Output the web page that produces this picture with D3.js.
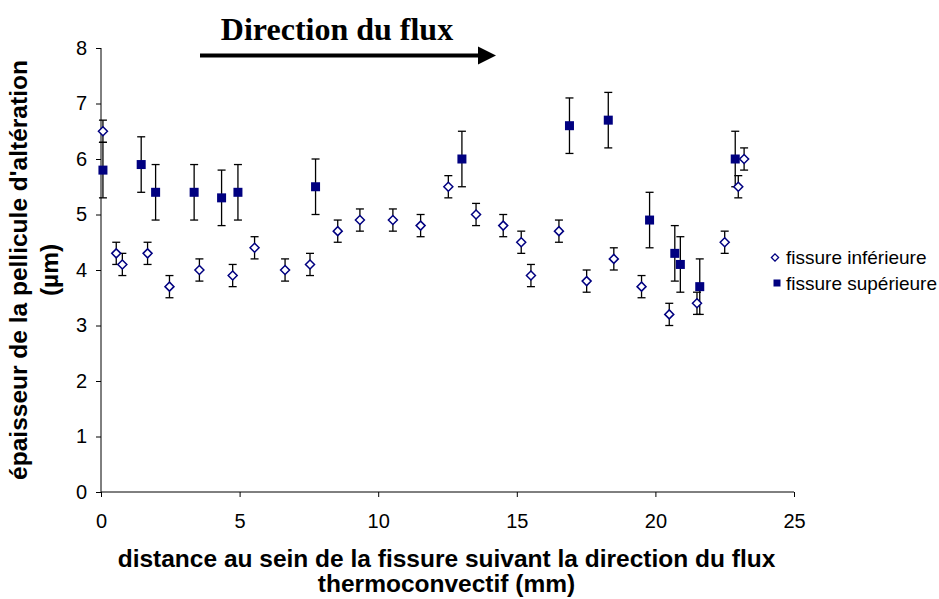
<!DOCTYPE html>
<html><head><meta charset="utf-8">
<script src="https://cdn.jsdelivr.net/npm/d3@7"></script>
<style>body{margin:0;background:#fff}svg{display:block}</style>
</head><body>
<svg id="c" width="939" height="599"></svg>
<script>
// Data
const infX = [0.07,0.55,0.77,1.68,2.47,3.55,4.75,5.54,6.64,7.54,8.54,9.34,10.53,11.53,12.53,13.53,14.51,15.16,15.51,16.52,17.52,18.5,19.5,20.5,21.5,22.5,22.99,23.2];
const infY = [6.5,4.3,4.1,4.3,3.7,4.0,3.9,4.4,4.0,4.1,4.7,4.9,4.9,4.8,5.5,5.0,4.8,4.5,3.9,4.7,3.8,4.2,3.7,3.2,3.4,4.5,5.5,6.0];
const infErr = [0.2,0.2,0.2,0.2,0.2,0.2,0.2,0.2,0.2,0.2,0.2,0.2,0.2,0.2,0.2,0.2,0.2,0.2,0.2,0.2,0.2,0.2,0.2,0.2,0.2,0.2,0.2,0.2];
const supX = [0.07,1.45,1.97,3.36,4.35,4.94,7.74,13.02,16.9,18.3,19.79,20.7,20.9,21.6,22.88];
const supY = [5.8,5.9,5.4,5.4,5.3,5.4,5.5,6.0,6.6,6.7,4.9,4.3,4.1,3.7,6.0];
const supErr = [0.5,0.5,0.5,0.5,0.5,0.5,0.5,0.5,0.5,0.5,0.5,0.5,0.5,0.5,0.5];
const xTicks = [0,5,10,15,20,25];
const yTicks = [0,1,2,3,4,5,6,7,8];
const seriesNames = ["fissure inférieure","fissure supérieure"];

const svg = d3.select("#c");
const x = d3.scaleLinear().domain([0,25]).range([101,794]);
const y = d3.scaleLinear().domain([0,8]).range([492,48]);
const sans = "Liberation Sans, Arial, sans-serif";

// axes
const xa = svg.append("g").attr("transform","translate(0,492)")
  .call(d3.axisBottom(x).tickValues(xTicks).tickSize(5).tickPadding(17));
const ya = svg.append("g").attr("transform","translate(101,0)")
  .call(d3.axisLeft(y).tickValues(yTicks).tickSize(5).tickPadding(9));
[xa,ya].forEach(a=>{
  a.selectAll("path").attr("stroke","#000").attr("stroke-width",1);
  a.selectAll("line").attr("stroke","#000");
  a.selectAll("text").attr("font-family",sans).attr("font-size",20).attr("fill","#000");
});
xa.select(".domain").attr("d","M101,0H794");
ya.select(".domain").attr("d","M0,492V48");

// error bars
function errBars(xs, ys, es){
  const g = svg.append("g").attr("stroke","#000").attr("stroke-width",1.3);
  xs.forEach((xv,i)=>{
    const cx = x(xv), y1 = y(ys[i]+es[i]), y2 = y(ys[i]-es[i]);
    g.append("line").attr("x1",cx).attr("x2",cx).attr("y1",y1).attr("y2",y2);
    g.append("line").attr("x1",cx-4).attr("x2",cx+4).attr("y1",y1).attr("y2",y1);
    g.append("line").attr("x1",cx-4).attr("x2",cx+4).attr("y1",y2).attr("y2",y2);
  });
}
errBars(infX, infY, infErr);
errBars(supX, supY, supErr);

const navy = "#000080";
const diamond = (d,r=4.5) => `M${d[0]},${d[1]-r}L${d[0]+r},${d[1]}L${d[0]},${d[1]+r}L${d[0]-r},${d[1]}Z`;
svg.append("g").selectAll("path").data(infX.map((v,i)=>[x(v),y(infY[i])])).join("path")
  .attr("d",d=>diamond(d)).attr("fill","#fff").attr("stroke",navy).attr("stroke-width",1.5);
svg.append("g").selectAll("rect").data(supX.map((v,i)=>[x(v),y(supY[i])])).join("rect")
  .attr("x",d=>d[0]-4.5).attr("y",d=>d[1]-4.5).attr("width",9).attr("height",9).attr("fill",navy);

// legend
const lg = svg.append("g");
lg.append("path").attr("d",diamond([775,257.5],3.6)).attr("fill","#fff").attr("stroke",navy).attr("stroke-width",1.3);
lg.append("rect").attr("x",773.5).attr("y",279.5).attr("width",7).attr("height",7).attr("fill",navy);
lg.selectAll("text").data(seriesNames).join("text")
  .attr("x",786).attr("y",(d,i)=>264+i*26)
  .attr("font-family",sans).attr("font-size",19).attr("fill","#000").text(d=>d);

// axis titles
svg.append("text").attr("x",446.5).attr("y",567).attr("text-anchor","middle")
  .attr("font-family",sans).attr("font-weight","bold").attr("font-size",24.5).text("distance au sein de la fissure suivant la direction du flux");
svg.append("text").attr("x",446.5).attr("y",592).attr("text-anchor","middle")
  .attr("font-family",sans).attr("font-weight","bold").attr("font-size",24.5).text("thermoconvectif (mm)");
svg.append("text").attr("transform","translate(27,270) rotate(-90)").attr("text-anchor","middle")
  .attr("font-family",sans).attr("font-weight","bold").attr("font-size",24.5).text("épaisseur de la pellicule d'altération");
svg.append("text").attr("transform","translate(58,270) rotate(-90)").attr("text-anchor","middle")
  .attr("font-family",sans).attr("font-weight","bold").attr("font-size",24.5).text("(µm)");

// annotation
svg.append("text").attr("x",337).attr("y",40).attr("text-anchor","middle")
  .attr("font-family","Liberation Serif, Times New Roman, serif").attr("font-weight","bold").attr("font-size",32).text("Direction du flux");
svg.append("line").attr("x1",200).attr("x2",481).attr("y1",55.5).attr("y2",55.5).attr("stroke","#000").attr("stroke-width",4);
svg.append("path").attr("d","M478,46.5L496,55.5L478,64.5Z").attr("fill","#000");
</script>
</body></html>
